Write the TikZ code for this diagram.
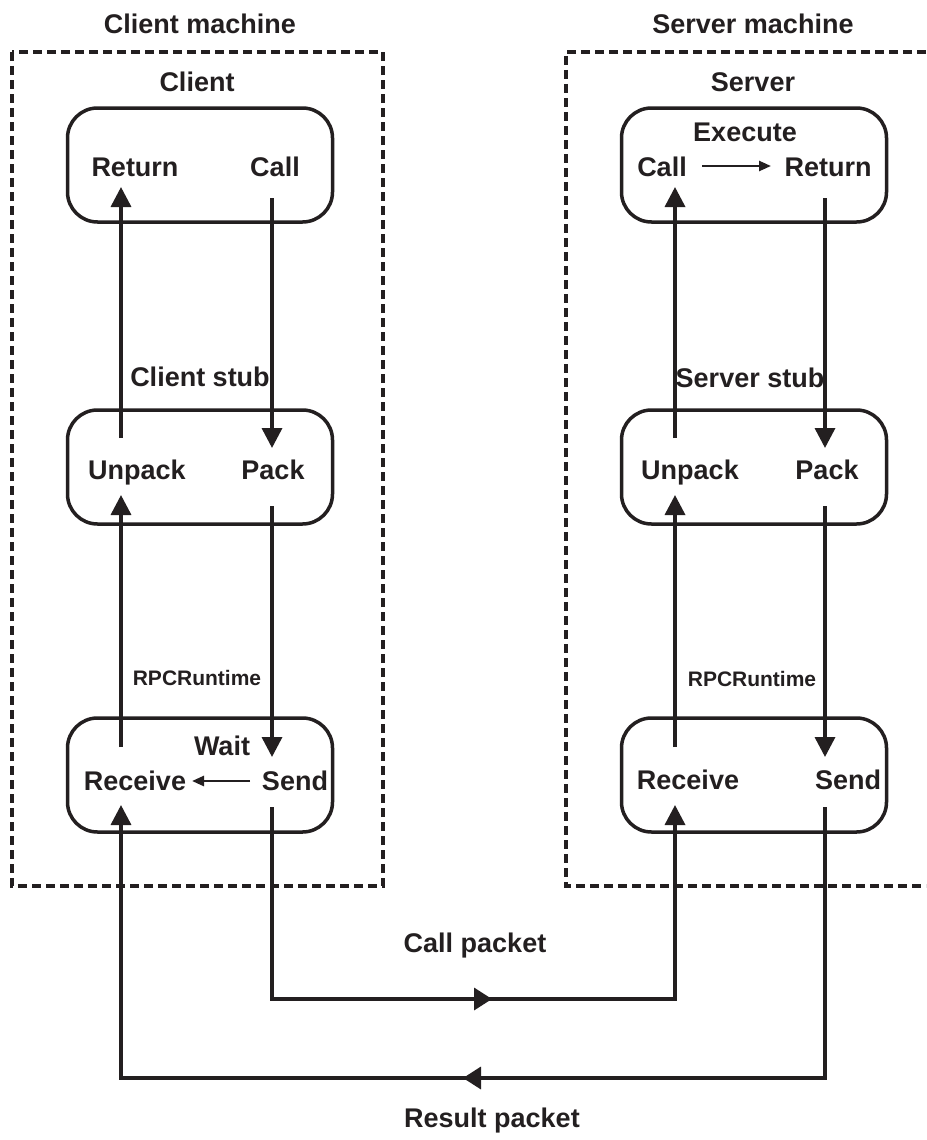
\documentclass[tikz,border=0pt]{standalone}
\usepackage{fontspec}
\setmainfont{Liberation Sans}
\usetikzlibrary{arrows.meta}
\definecolor{ink}{HTML}{231F20}

\begin{document}
\begin{tikzpicture}[x=1pt,y=-1pt, color=ink,
  lbl/.style={font=\fontsize{27}{30}\selectfont\bfseries, text=ink, inner sep=0pt, text height=19.3pt, text depth=0pt, anchor=center},
  small/.style={font=\fontsize{21}{24}\selectfont\bfseries, text=ink, inner sep=0pt, text height=15pt, text depth=0pt, anchor=center},
  stage/.style={draw=ink, line width=3.5pt, rounded corners=30pt, minimum width=265pt, minimum height=114pt, inner sep=0pt},
  frame/.style={draw=ink, line width=4pt, dash pattern=on 9pt off 5pt},
  flow/.style={draw=ink, line width=3.5pt, -{Triangle[length=20pt,width=20pt]}},
  inner flow/.style={draw=ink, line width=2.5pt, -{Triangle[length=12pt,width=10pt]}},
  midtip/.style={draw=ink, line width=3.5pt, -{Triangle[length=18pt,width=22pt]}}
]
\useasboundingbox (0,0) rectangle (926,1140);

% machine frames
\draw[frame] (12,52) rectangle (383,886);
\draw[frame] (926,52) -- (566,52) -- (566,886) -- (926,886);
\node[lbl] (cmach) at (200,24) {Client machine};
\node[lbl] (smach) at (753,24) {Server machine};

% layer boxes
\node[stage] (cbox) at (200,165) {};
\node[stage] (cstubbox) at (200,467) {};
\node[stage] (crtbox) at (200,775) {};
\node[stage] (sbox) at (754,165) {};
\node[stage] (sstubbox) at (754,467) {};
\node[stage] (srtbox) at (754,775) {};

% client side labels
\node[lbl] (client) at (197,82) {Client};
\node[lbl] (creturn) at (135,167) {Return};
\node[lbl] (ccall) at (275,167) {Call};
\node[lbl] (cstub) at (200,377) {Client stub};
\node[lbl] (cunpack) at (137,470) {Unpack};
\node[lbl] (cpack) at (273,470) {Pack};
\node[small] (crpc) at (197,678) {RPCRuntime};
\node[lbl] (cwait) at (222,746) {Wait};
\node[lbl] (creceive) at (135,781) {Receive};
\node[lbl] (csend) at (295,781) {Send};

% server side labels
\node[lbl] (server) at (753,82) {Server};
\node[lbl] (sexec) at (745,132) {Execute};
\node[lbl] (scall) at (662,167) {Call};
\node[lbl] (sreturn) at (828,167) {Return};
\node[lbl] (sstub) at (750,378) {Server stub};
\node[lbl] (sunpack) at (690,470) {Unpack};
\node[lbl] (spack) at (827,470) {Pack};
\node[small] (srpc) at (752,679) {RPCRuntime};
\node[lbl] (sreceive) at (688,780) {Receive};
\node[lbl] (ssend) at (848,780) {Send};

% packet labels
\node[lbl] (callpk) at (475,943) {Call packet};
\node[lbl] (resultpk) at (492,1118) {Result packet};

% connector ports, client
\coordinate (c-ret-in) at (121,187);
\coordinate (c-unp-out) at (121,438);
\coordinate (c-call-out) at (272,198);
\coordinate (c-pack-in) at (272,448);
\coordinate (c-unp-in) at (121,495);
\coordinate (c-recv-out) at (121,747);
\coordinate (c-pack-out) at (272,506);
\coordinate (c-send-in) at (272,757);
\coordinate (c-send-out) at (272,807);
\coordinate (c-recv-in) at (121,805);
\coordinate (c-send-x) at (250,781);
\coordinate (c-recv-x) at (192,781);

% connector ports, server
\coordinate (s-call-in) at (675,187);
\coordinate (s-unp-out) at (675,438);
\coordinate (s-ret-out) at (825,198);
\coordinate (s-pack-in) at (825,448);
\coordinate (s-unp-in) at (675,495);
\coordinate (s-recv-out) at (675,747);
\coordinate (s-pack-out) at (825,506);
\coordinate (s-send-in) at (825,757);
\coordinate (s-send-out) at (825,807);
\coordinate (s-recv-in) at (675,805);
\coordinate (s-call-x) at (702,166);
\coordinate (s-ret-x) at (771,166);

% network corners
\coordinate (call-l) at (272,999);
\coordinate (call-mid) at (492,999);
\coordinate (call-r) at (675,999);
\coordinate (res-r) at (825,1078);
\coordinate (res-mid) at (463,1078);
\coordinate (res-l) at (121,1078);

% client flows
\draw[flow] (c-unp-out) -- (c-ret-in);
\draw[flow] (c-call-out) -- (c-pack-in);
\draw[flow] (c-recv-out) -- (c-unp-in);
\draw[flow] (c-pack-out) -- (c-send-in);
\draw[inner flow] (c-send-x) -- (c-recv-x);

% server flows
\draw[flow] (s-unp-out) -- (s-call-in);
\draw[flow] (s-ret-out) -- (s-pack-in);
\draw[flow] (s-recv-out) -- (s-unp-in);
\draw[flow] (s-pack-out) -- (s-send-in);
\draw[inner flow] (s-call-x) -- (s-ret-x);

% call packet and result packet, each with a direction mark on its long run
\draw[flow] (c-send-out) -- (call-l) -- (call-r) -- (s-recv-in);
\draw[midtip] (call-l) -- (call-mid);
\draw[flow] (s-send-out) -- (res-r) -- (res-l) -- (c-recv-in);
\draw[midtip] (res-r) -- (res-mid);
\end{tikzpicture}
\end{document}
